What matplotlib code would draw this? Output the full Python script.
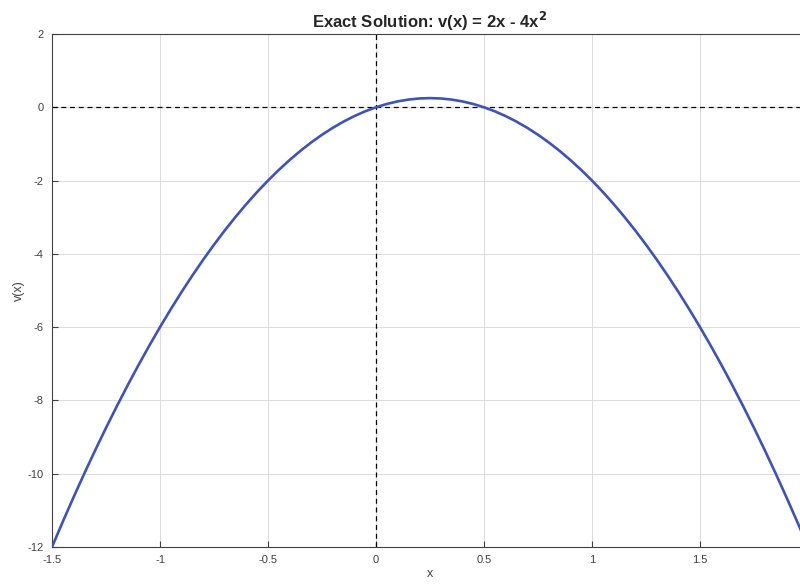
import matplotlib.pyplot as plt

plt.rcParams['font.family'] = ['Liberation Sans', 'DejaVu Sans']
plt.rcParams['axes.unicode_minus'] = False

x_vals = [-1.50, -1.45, -1.40, -1.35, -1.30, -1.25, -1.20, -1.15, -1.10, -1.05,
          -1.00, -0.95, -0.90, -0.85, -0.80, -0.75, -0.70, -0.65, -0.60, -0.55,
          -0.50, -0.45, -0.40, -0.35, -0.30, -0.25, -0.20, -0.15, -0.10, -0.05,
          0.00, 0.05, 0.10, 0.15, 0.20, 0.25, 0.30, 0.35, 0.40, 0.45,
          0.50, 0.55, 0.60, 0.65, 0.70, 0.75, 0.80, 0.85, 0.90, 0.95,
          1.00, 1.05, 1.10, 1.15, 1.20, 1.25, 1.30, 1.35, 1.40, 1.45,
          1.50, 1.55, 1.60, 1.65, 1.70, 1.75, 1.80, 1.85, 1.90, 1.95, 2.00]
v_vals = [-12.0, -11.31, -10.64, -9.99, -9.36, -8.75, -8.16, -7.59, -7.04, -6.51,
          -6.0, -5.51, -5.04, -4.59, -4.16, -3.75, -3.36, -2.99, -2.64, -2.31,
          -2.0, -1.71, -1.44, -1.19, -0.96, -0.75, -0.56, -0.39, -0.24, -0.11,
          0.0, 0.09, 0.16, 0.21, 0.24, 0.25, 0.24, 0.21, 0.16, 0.09,
          0.0, -0.11, -0.24, -0.39, -0.56, -0.75, -0.96, -1.19, -1.44, -1.71,
          -2.0, -2.31, -2.64, -2.99, -3.36, -3.75, -4.16, -4.59, -5.04, -5.51,
          -6.0, -6.51, -7.04, -7.59, -8.16, -8.75, -9.36, -9.99, -10.64, -11.31, -12.0]

x_ticks = [-1.5, -1, -0.5, 0, 0.5, 1, 1.5]
x_labels = ['-1.5', '-1', '-0.5', '0', '0.5', '1', '1.5']
y_ticks = [-12, -10, -8, -6, -4, -2, 0, 2]

fig = plt.figure(figsize=(8, 5.84), dpi=100)
ax = fig.add_axes([0.065, 0.0634, 0.945, 0.8784])

ax.plot(x_vals, v_vals, color='#3f53b5', linewidth=1.9, zorder=3)
ax.axhline(0, color='black', linestyle='--', linewidth=0.9, dashes=(4, 3), zorder=2)
ax.axvline(0, color='black', linestyle='--', linewidth=0.9, dashes=(4, 3), zorder=2)

ax.set_xlim(-1.5, 2)
ax.set_ylim(-12, 2)
ax.set_xticks(x_ticks)
ax.set_xticklabels(x_labels)
ax.set_yticks(y_ticks)

ax.grid(True, color='#dcdcdc', linewidth=0.7)
ax.set_axisbelow(True)
ax.tick_params(direction='in', length=4, width=0.8, colors='#404040',
               labelsize=8, labelcolor='#404040', pad=6)
for s in ax.spines.values():
    s.set_color('#404040')
    s.set_linewidth(0.8)

ax.set_title(r'Exact Solution: v(x) = 2x - 4x$^\mathbf{2}$', fontsize=12,
             fontweight='bold', color='#262626', pad=4)
ax.set_xlabel('x', fontsize=9, color='#404040', labelpad=2)
ax.set_ylabel('v(x)', fontsize=9, color='#404040', labelpad=2)

fig.savefig('out.png', dpi=100)
